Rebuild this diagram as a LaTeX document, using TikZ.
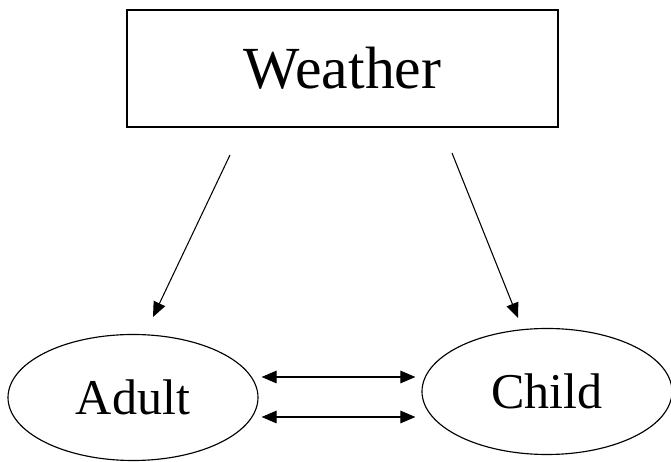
\documentclass[tikz,border=0pt]{standalone}
\usepackage{fontspec}
\setmainfont{Liberation Serif}
\usepackage{tikz}
\usetikzlibrary{shapes.geometric,arrows.meta,positioning,calc}

\begin{document}
\begin{tikzpicture}[x=1cm,y=1cm,>={Triangle[length=3mm,width=2.5mm]},
  topbox/.style={draw,line width=1.2pt,minimum width=8.62cm,minimum height=2.34cm,
    inner sep=0pt,font=\fontsize{34}{40}\selectfont},
  person/.style={draw,ellipse,line width=0.65pt,minimum width=5.0cm,minimum height=2.52cm,
    inner sep=0pt,font=\fontsize{28.5}{34}\selectfont},
  infl/.style={->,line width=0.6pt},
  both/.style={<->,line width=0.6pt}]
\useasboundingbox (0,0) rectangle (13.42,9.24);
\node[topbox] (weather) at (6.85,7.87) {Weather};
\node[person] (adult) at (2.66,1.29) {Adult};
\node[person] (child) at (10.94,1.41) {Child};
% free ends of the two influence arrows
\coordinate (wl) at (4.60,6.14);
\coordinate (al) at (3.06,2.90);
\coordinate (wr) at (9.04,6.18);
\coordinate (cr) at (10.36,2.88);
\draw[infl] (wl) -- (al);
\draw[infl] (wr) -- (cr);
\draw[both,shorten <=0.06cm,shorten >=0.12cm] (adult.east |- 0,1.70) -- (child.west |- 0,1.70);
\draw[both,shorten <=0.06cm,shorten >=0.12cm] (adult.east |- 0,0.90) -- (child.west |- 0,0.90);
\end{tikzpicture}
\end{document}
